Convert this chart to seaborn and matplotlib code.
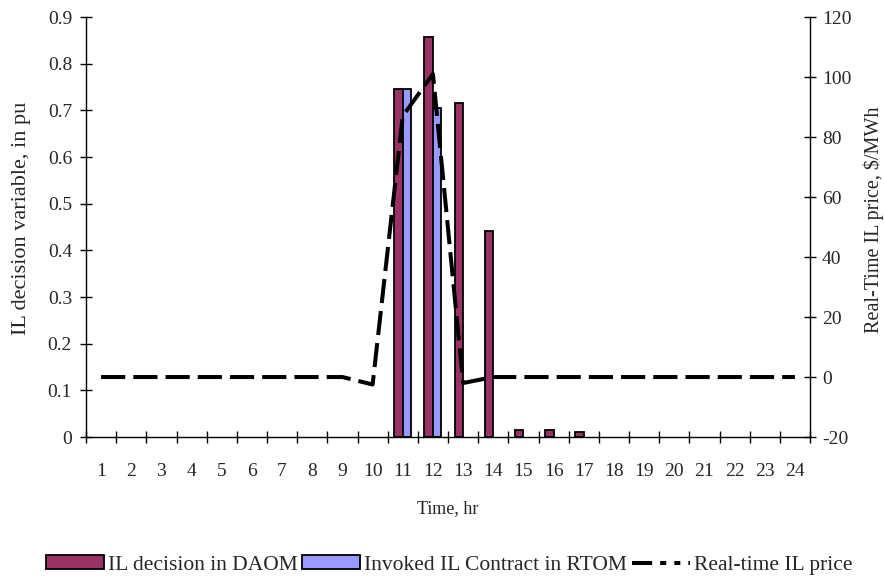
import numpy as np
import pandas as pd
import matplotlib
matplotlib.use("Agg")
import matplotlib.pyplot as plt
from matplotlib.patches import Patch
from matplotlib.lines import Line2D
import seaborn as sns

# Hourly data
hours = [str(h) for h in range(1, 25)]
il_decision_daom = [0, 0, 0, 0, 0, 0, 0, 0, 0, 0,
                    0.745, 0.857, 0.716, 0.441, 0.014, 0.014, 0.010,
                    0, 0, 0, 0, 0, 0, 0]
invoked_il_rtom = [0, 0, 0, 0, 0, 0, 0, 0, 0, 0,
                   0.745, 0.706, 0, 0, 0, 0, 0,
                   0, 0, 0, 0, 0, 0, 0]
rt_il_price = [0, 0, 0, 0, 0, 0, 0, 0, 0, -2.5,
               87, 101, -2, 0, 0, 0, 0,
               0, 0, 0, 0, 0, 0, 0]

series_names = ["IL decision in DAOM", "Invoked IL Contract in RTOM"]
price_name = "Real-time IL price"
bar_colors = ["#993366", "#9999FF"]

sns.set_theme(style="white")
plt.rcParams["font.family"] = ["Liberation Serif", "DejaVu Serif"]
plt.rcParams["font.size"] = 12
plt.rcParams["axes.unicode_minus"] = False

df = pd.DataFrame({
    "hour": hours * 2,
    "series": [series_names[0]] * 24 + [series_names[1]] * 24,
    "value": il_decision_daom + invoked_il_rtom,
})
df = df[df["value"] > 0]

fig = plt.figure(figsize=(8.84, 5.81), dpi=100)
ax = fig.add_axes([0.0973, 0.2478, 0.9163 - 0.0973, 0.9707 - 0.2478])

sns.barplot(data=df, x="hour", y="value", hue="series", order=hours,
            hue_order=series_names, palette=bar_colors, width=0.565,
            edgecolor="black", linewidth=1.3, saturation=1, legend=False, ax=ax)

tick_fs = 14
ax.set_xlim(-0.5, 23.5)
ax.set_ylim(0, 0.9)
ax.set_yticks(np.arange(0, 0.91, 0.1))
ax.set_yticklabels(["0"] + [f"{v:.1f}" for v in np.arange(0.1, 0.91, 0.1)])
ax.set_xticks(range(24))
ax.set_xticklabels(hours)
ax.set_xticks(np.arange(-0.5, 24, 1), minor=True)
ax.tick_params(axis="x", which="major", length=0, pad=19, labelsize=tick_fs)
ax.tick_params(axis="x", which="minor", direction="inout", length=9,
               width=1, color="black", bottom=True)
ax.tick_params(axis="y", direction="inout", length=9, width=1,
               color="black", left=True, labelsize=tick_fs, pad=5.5)
ax.set_xlabel("Time, hr", fontsize=13, labelpad=14)
ax.set_ylabel("IL decision variable, in pu", fontsize=16)
ax.yaxis.set_label_coords(-0.076, 0.52)

for side in ["left", "bottom"]:
    ax.spines[side].set_color("black")
    ax.spines[side].set_linewidth(1)
ax.spines["top"].set_visible(False)
ax.spines["right"].set_visible(False)

# Secondary axis for the price curve
ax2 = ax.twinx()
sns.lineplot(x=np.arange(24), y=rt_il_price, ax=ax2, color="black",
             linewidth=2.9, dashes=False, legend=False)
ax2.lines[0].set_dashes((6, 2))
ax2.set_ylim(-20, 120)
ax2.set_yticks(np.arange(-20, 121, 20))
ax2.tick_params(axis="y", direction="inout", length=9, width=1,
                color="black", right=True, labelsize=tick_fs, pad=4)
ax2.set_ylabel("Real-Time IL price, $/MWh", fontsize=14.5)
ax2.yaxis.set_label_coords(1.074, 0.517)
ax2.spines["right"].set_color("black")
ax2.spines["right"].set_linewidth(1)
ax2.spines["top"].set_visible(False)
ax2.spines["left"].set_visible(False)
ax2.spines["bottom"].set_visible(False)
ax2.grid(False)
ax.grid(False)
ax2.set_xlim(-0.5, 23.5)

handles = [
    Patch(facecolor=bar_colors[0], edgecolor="black", linewidth=1.3),
    Patch(facecolor=bar_colors[1], edgecolor="black", linewidth=1.3),
    Line2D([0], [0], color="black", linewidth=2.9,
           dashes=(5, 2, 1.5, 2, 1.5, 2)),
]
fig.legend(handles, series_names + [price_name], loc="center",
           bbox_to_anchor=(0.508, 0.0275), ncol=3, frameon=False,
           handlelength=2.7, handleheight=0.56, handletextpad=0.2,
           columnspacing=0.2, fontsize=15.5)

fig.savefig("out.png", dpi=100)
